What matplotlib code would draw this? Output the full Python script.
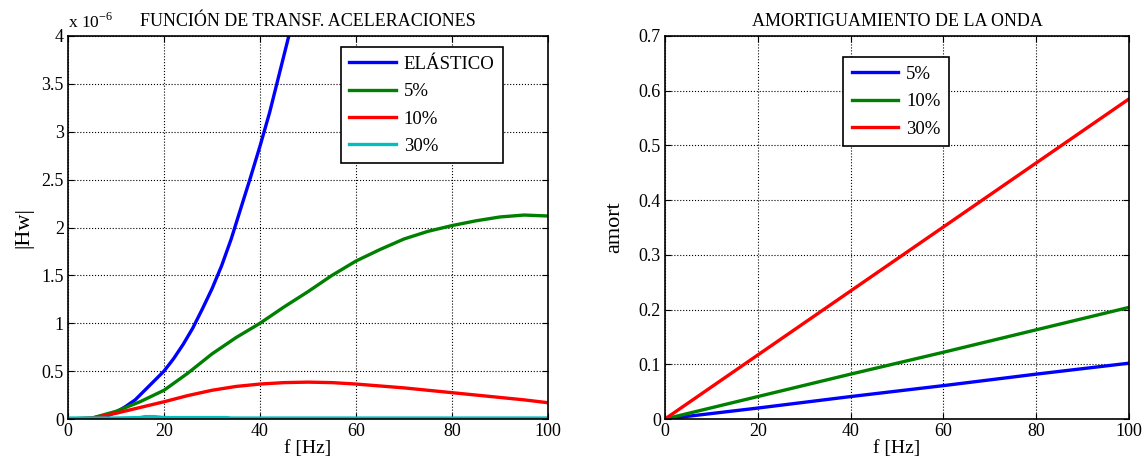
import matplotlib.pyplot as plt
import numpy as np

plt.rcParams['font.family'] = ['Liberation Serif', 'DejaVu Serif']

# left panel: |Hw| (in units of 1e-6) vs f [Hz]
f_el = [0, 4, 6, 8, 10, 12, 14, 16, 18, 20, 22, 24, 26, 28, 30, 32, 34, 36, 38, 40, 42, 44, 46, 48]
hw_el = [0, 0.003, 0.012, 0.03, 0.07, 0.13, 0.2, 0.3, 0.4, 0.5, 0.63, 0.78, 0.95, 1.15,
         1.36, 1.6, 1.88, 2.2, 2.52, 2.85, 3.2, 3.6, 4.0, 4.4]

f_d = [0, 5, 10, 15, 20, 25, 30, 35, 40, 45, 50, 55, 60, 65, 70, 75, 80, 85, 90, 95, 100]
hw_5 = [0, 0.01, 0.08, 0.18, 0.3, 0.48, 0.68, 0.85, 1.0, 1.17, 1.33, 1.5, 1.65, 1.77, 1.88,
        1.96, 2.02, 2.07, 2.11, 2.13, 2.12]
hw_10 = [0, 0.01, 0.06, 0.12, 0.18, 0.245, 0.3, 0.34, 0.365, 0.38, 0.385, 0.38, 0.365, 0.345,
         0.325, 0.3, 0.275, 0.25, 0.225, 0.2, 0.17]
f_30 = [0, 10, 15, 16, 18, 19, 20, 33, 34, 100]
hw_30 = [0.01, 0.01, 0.015, 0.025, 0.025, 0.02, 0.015, 0.015, 0.01, 0.01]

# right panel: wave damping
f_am = [0, 20, 40, 60, 80, 100]
am_5 = [0, 0.02, 0.041, 0.061, 0.082, 0.102]
am_10 = [0, 0.041, 0.082, 0.122, 0.163, 0.204]
am_30 = [0, 0.117, 0.234, 0.351, 0.468, 0.585]

BLUE, GREEN, RED, CYAN = '#0000ff', '#008000', '#ff0000', '#00bfbf'

fig = plt.figure(figsize=(11.48, 4.72), dpi=100)
ax1 = fig.add_axes([68/1148, 1-419/472, 480/1148, 383/472])
ax2 = fig.add_axes([665/1148, 1-419/472, 464/1148, 383/472])

leg_kw = dict(fontsize=13.5, fancybox=False, edgecolor='black', framealpha=1,
              handlelength=2.5, borderpad=0.45, labelspacing=0.55, handletextpad=0.4,
              borderaxespad=0)

lw = 2.4
ax1.plot(f_el, hw_el, color=BLUE, lw=lw, label='ELÁSTICO')
ax1.plot(f_d, hw_5, color=GREEN, lw=lw, label='5%')
ax1.plot(f_d, hw_10, color=RED, lw=lw, label='10%')
ax1.plot(f_30, hw_30, color=CYAN, lw=lw, label='30%')
ax1.set_xlim(0, 100)
ax1.set_ylim(0, 4)
ax1.set_yticks(np.arange(0, 4.01, 0.5))
ax1.set_yticklabels(['0', '0.5', '1', '1.5', '2', '2.5', '3', '3.5', '4'])
ax1.set_title('FUNCIÓN DE TRANSF. ACELERACIONES', fontsize=13, pad=7)
ax1.set_xlabel('f [Hz]', fontsize=14, labelpad=0)
ax1.set_ylabel('|Hw|', fontsize=16, labelpad=6)
ax1.text(0.0, 1.012, r'x 10$^{\mathregular{-6}}$', transform=ax1.transAxes,
         fontsize=12.5, ha='left', va='bottom')
ax1.legend(loc='upper right', bbox_to_anchor=(0.906, 0.971), **leg_kw)

ax2.plot(f_am, am_5, color=BLUE, lw=lw, label='5%')
ax2.plot(f_am, am_10, color=GREEN, lw=lw, label='10%')
ax2.plot(f_am, am_30, color=RED, lw=lw, label='30%')
ax2.set_xlim(0, 100)
ax2.set_ylim(0, 0.7)
ax2.set_yticks(np.arange(0, 0.71, 0.1))
ax2.set_yticklabels(['0', '0.1', '0.2', '0.3', '0.4', '0.5', '0.6', '0.7'])
ax2.set_title('AMORTIGUAMIENTO DE LA ONDA', fontsize=13, pad=7)
ax2.set_xlabel('f [Hz]', fontsize=14, labelpad=0)
ax2.set_ylabel('amort', fontsize=16, labelpad=10)
ax2.legend(loc='upper left', bbox_to_anchor=(0.384, 0.945), **leg_kw)

for ax in (ax1, ax2):
    ax.set_xticks([0, 20, 40, 60, 80, 100])
    ax.grid(True, color='black', linestyle=':', linewidth=0.8)
    ax.tick_params(direction='in', top=True, right=True, length=4, labelsize=13, pad=3)
    for s in ax.spines.values():
        s.set_linewidth(1.2)
    ax.get_legend().get_frame().set_linewidth(1.2)

fig.savefig('out.png', dpi=100)
plt.close()
